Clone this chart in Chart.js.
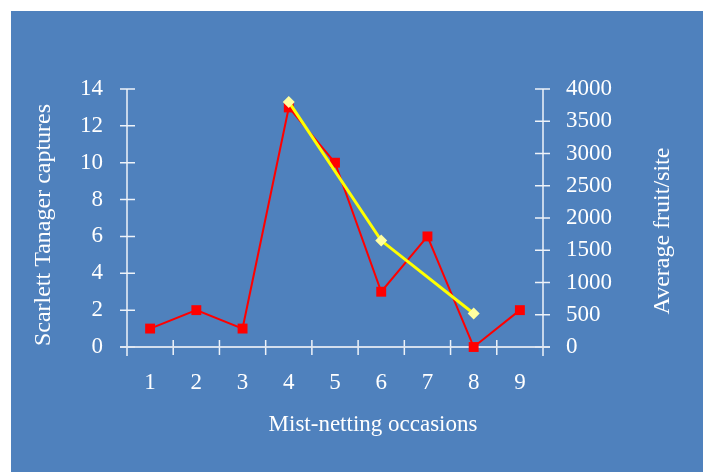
<!DOCTYPE html>
<html>
<head>
<meta charset="utf-8">
<script src="https://cdn.jsdelivr.net/npm/chart.js@4/dist/chart.umd.min.js"></script>
<style>
  html, body { margin: 0; padding: 0; background: #fff; }
  #wrap { position: absolute; left: 11px; top: 11px; width: 692px; height: 461px; background: #4f81bd; }
</style>
</head>
<body>
<div id="wrap"><canvas id="tanagerChart"></canvas></div>
<script>
// data
const occasions = ["1", "2", "3", "4", "5", "6", "7", "8", "9"];
const captures = [1, 2, 1, 13, 10, 3, 6, 0, 2];
const fruitPerSite = [null, null, null, 3800, null, 1650, null, 520, null];

const xTitle = "Mist-netting occasions";
const yTitle = "Scarlett Tanager captures";
const y2Title = "Average fruit/site";

const FONT = "'Liberation Serif', 'DejaVu Serif', serif";
const AXIS = "rgba(255,255,255,0.9)";

// axes with ticks crossing the line, plus titles
const axesPlugin = {
  id: "axesPlugin",
  beforeDatasetsDraw(chart) {
    const { ctx, chartArea: a, scales } = chart;
    ctx.save();
    ctx.strokeStyle = AXIS;
    ctx.lineWidth = 1.5;

    ctx.beginPath();
    ctx.moveTo(a.left, a.top);
    ctx.lineTo(a.left, a.bottom + 9);
    ctx.moveTo(a.right, a.top);
    ctx.lineTo(a.right, a.bottom + 9);
    scales.y.ticks.forEach((t) => {
      const y = scales.y.getPixelForValue(t.value);
      ctx.moveTo(a.left - 7, y);
      ctx.lineTo(a.left + 8, y);
    });
    scales.y2.ticks.forEach((t) => {
      const y = scales.y2.getPixelForValue(t.value);
      ctx.moveTo(a.right - 8, y);
      ctx.lineTo(a.right + 7, y);
    });
    for (let i = 0; i <= occasions.length; i++) {
      const x = scales.x.getPixelForValue(i - 0.5);
      ctx.moveTo(x, a.bottom - 7);
      ctx.lineTo(x, a.bottom + 8);
    }
    ctx.stroke();

    ctx.strokeStyle = "rgba(225,232,242,0.9)";
    ctx.lineWidth = 2;
    ctx.beginPath();
    ctx.moveTo(a.left - 7, a.bottom);
    ctx.lineTo(a.right + 7, a.bottom);
    ctx.stroke();
    ctx.restore();
  },
  afterDraw(chart) {
    const { ctx } = chart;
    ctx.save();
    ctx.fillStyle = "#fff";
    ctx.font = "23px " + FONT;
    ctx.textAlign = "center";
    ctx.textBaseline = "middle";
    ctx.fillText(xTitle, 362, 414);

    ctx.font = "24px " + FONT;
    ctx.translate(33, 214);
    ctx.rotate(-Math.PI / 2);
    ctx.fillText(yTitle, 0, 0);
    ctx.restore();

    ctx.save();
    ctx.fillStyle = "#fff";
    ctx.font = "24px " + FONT;
    ctx.textAlign = "center";
    ctx.textBaseline = "middle";
    ctx.translate(652, 220);
    ctx.rotate(-Math.PI / 2);
    ctx.fillText(y2Title, 0, 0);
    ctx.restore();
  },
};

const ctx = document.getElementById("tanagerChart").getContext("2d");
new Chart(ctx, {
  type: "line",
  data: {
    labels: occasions,
    datasets: [
      {
        label: "Captures",
        data: captures,
        yAxisID: "y",
        borderColor: "#ff0000",
        borderWidth: 2,
        backgroundColor: "#ff0000",
        pointStyle: "rect",
        pointRadius: 7,
        pointBorderWidth: 0,
        tension: 0,
        clip: false,
      },
      {
        label: "Fruit",
        data: fruitPerSite,
        yAxisID: "y2",
        borderColor: "#ffff00",
        borderWidth: 3,
        backgroundColor: "#ffffa0",
        pointStyle: "rectRot",
        pointRadius: 6,
        pointBorderWidth: 0,
        spanGaps: true,
        tension: 0,
        clip: false,
        order: -1,
      },
    ],
  },
  options: {
    responsive: true,
    maintainAspectRatio: false,
    animation: false,
    layout: { padding: { top: 78, left: 0, right: 0, bottom: 0 } },
    plugins: {
      legend: { display: false },
      tooltip: { enabled: false },
    },
    scales: {
      x: {
        type: "category",
        offset: true,
        grid: { display: false, drawTicks: false },
        border: { display: false },
        ticks: { color: "#fff", font: { family: FONT, size: 23 }, padding: 22 },
        afterFit: (s) => { s.height = 125; },
      },
      y: {
        position: "left",
        min: 0,
        max: 14,
        grid: { display: false, drawTicks: false },
        border: { display: false },
        ticks: { stepSize: 2, color: "#fff", font: { family: FONT, size: 23 }, padding: 24 },
        afterFit: (s) => { s.width = 116; },
      },
      y2: {
        position: "right",
        min: 0,
        max: 4000,
        grid: { display: false, drawTicks: false },
        border: { display: false },
        ticks: {
          stepSize: 500,
          color: "#fff",
          font: { family: FONT, size: 23 },
          padding: 23,
          callback: (v) => String(v),
        },
        afterFit: (s) => { s.width = 160; },
      },
    },
  },
  plugins: [axesPlugin],
});
</script>
</body>
</html>
